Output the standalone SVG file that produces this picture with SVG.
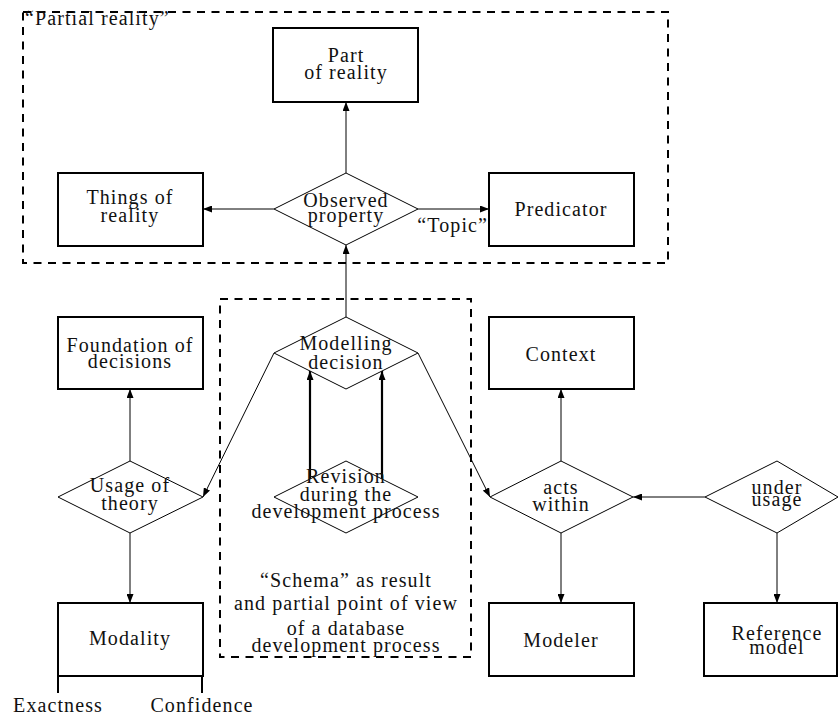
<svg xmlns="http://www.w3.org/2000/svg" width="838" height="717" viewBox="0 0 838 717">
<style>
  text { font-family: "Liberation Serif", "Times New Roman", serif; font-size: 20px; letter-spacing: 1.1px; fill: #111; text-anchor: middle; }
  .box { fill: #fff; stroke: #000; stroke-width: 2; }
  .dia { fill: #fff; stroke: #000; stroke-width: 1; }
  .frame { fill: none; stroke: #000; stroke-width: 2; stroke-dasharray: 8 6.5; }
  .c { fill: none; stroke: #000; stroke-width: 1; marker-end: url(#ah); }
  .ct { fill: none; stroke: #000; stroke-width: 2.2; marker-end: url(#ah); }
  .leg { fill: none; stroke: #000; stroke-width: 2; }
</style>
<defs>
  <marker id="ah" markerUnits="userSpaceOnUse" markerWidth="9" markerHeight="7" refX="9" refY="3.5" orient="auto">
    <path d="M0,0 L9,3.5 L0,7 z" fill="#000"/>
  </marker>
</defs>
<rect width="838" height="717" fill="#fff"/>

<g id="frame-partial-reality">
  <rect class="frame" x="23" y="12" width="645" height="251"/>
  <text x="25" y="25" style="text-anchor:start">“Partial reality”</text>
</g>
<g id="frame-schema">
  <rect class="frame" x="220" y="299" width="251" height="358"/>
</g>

<g id="connectors">
  <line class="c" x1="346" y1="173" x2="346" y2="102"/>
  <line class="c" x1="274" y1="209" x2="203" y2="209"/>
  <line class="c" x1="418" y1="209" x2="489" y2="209"/>
  <line class="c" x1="346" y1="317" x2="346" y2="245"/>
  <line class="c" x1="274" y1="353" x2="203" y2="497"/>
  <line class="c" x1="418" y1="353" x2="490" y2="497"/>
  <line class="c" x1="130" y1="461" x2="130" y2="389"/>
  <line class="c" x1="130" y1="533" x2="130" y2="603"/>
  <line class="ct" x1="310" y1="479" x2="310" y2="371"/>
  <line class="ct" x1="382" y1="479" x2="382" y2="371"/>
  <line class="c" x1="561" y1="461" x2="561" y2="389"/>
  <line class="c" x1="561" y1="533" x2="561" y2="603"/>
  <line class="c" x1="705" y1="497" x2="633" y2="497"/>
  <line class="c" x1="777" y1="533" x2="777" y2="603"/>
  <line class="leg" x1="58" y1="676" x2="58" y2="693"/>
  <line class="leg" x1="202" y1="676" x2="202" y2="693"/>
  <text x="488" y="232" style="text-anchor:end">“Topic”</text>
</g>

<g id="part-of-reality">
  <rect class="box" x="273" y="28" width="145" height="74"/>
  <text x="346" y="62">Part</text>
  <text x="346" y="79">of reality</text>
</g>
<g id="things-of-reality">
  <rect class="box" x="58" y="173" width="145" height="73"/>
  <text x="130" y="204">Things of</text>
  <text x="130" y="222">reality</text>
</g>
<g id="observed-property">
  <polygon class="dia" points="274,209 346,173 418,209 346,245"/>
  <text x="346" y="207">Observed</text>
  <text x="346" y="222">property</text>
</g>
<g id="predicator">
  <rect class="box" x="489" y="173" width="145" height="73"/>
  <text x="561" y="216">Predicator</text>
</g>

<g id="foundation-of-decisions">
  <rect class="box" x="58" y="317" width="145" height="72"/>
  <text x="130" y="352">Foundation of</text>
  <text x="130" y="368">decisions</text>
</g>
<g id="modelling-decision">
  <polygon class="dia" points="274,353 346,317 418,353 346,389"/>
  <text x="346" y="350">Modelling</text>
  <text x="346" y="369">decision</text>
</g>
<g id="context">
  <rect class="box" x="489" y="317" width="145" height="72"/>
  <text x="561" y="361">Context</text>
</g>

<g id="usage-of-theory">
  <polygon class="dia" points="58,497 130,461 203,497 130,533"/>
  <text x="130" y="492">Usage of</text>
  <text x="130" y="510">theory</text>
</g>
<g id="revision">
  <polygon class="dia" points="274,497 346,461 418,497 346,533"/>
  <text x="346" y="483">Revision</text>
  <text x="346" y="501">during the</text>
  <text x="346" y="518">development process</text>
</g>
<g id="acts-within">
  <polygon class="dia" points="490,497 561,461 633,497 561,533"/>
  <text x="561" y="494">acts</text>
  <text x="561" y="511">within</text>
</g>
<g id="under-usage">
  <polygon class="dia" points="705,497 777,461 838,497 777,533"/>
  <text x="777" y="494">under</text>
  <text x="777" y="506">usage</text>
</g>

<g id="schema-label">
  <text x="346" y="587">“Schema” as result</text>
  <text x="346" y="610">and partial point of view</text>
  <text x="346" y="635">of a database</text>
  <text x="346" y="652">development process</text>
</g>

<g id="modality">
  <rect class="box" x="58" y="603" width="145" height="73"/>
  <text x="130" y="645">Modality</text>
  <text x="58" y="712">Exactness</text>
  <text x="202" y="712">Confidence</text>
</g>
<g id="modeler">
  <rect class="box" x="489" y="603" width="145" height="73"/>
  <text x="561" y="647">Modeler</text>
</g>
<g id="reference-model">
  <rect class="box" x="704" y="603" width="133" height="73"/>
  <text x="777" y="640">Reference</text>
  <text x="777" y="654">model</text>
</g>
</svg>
